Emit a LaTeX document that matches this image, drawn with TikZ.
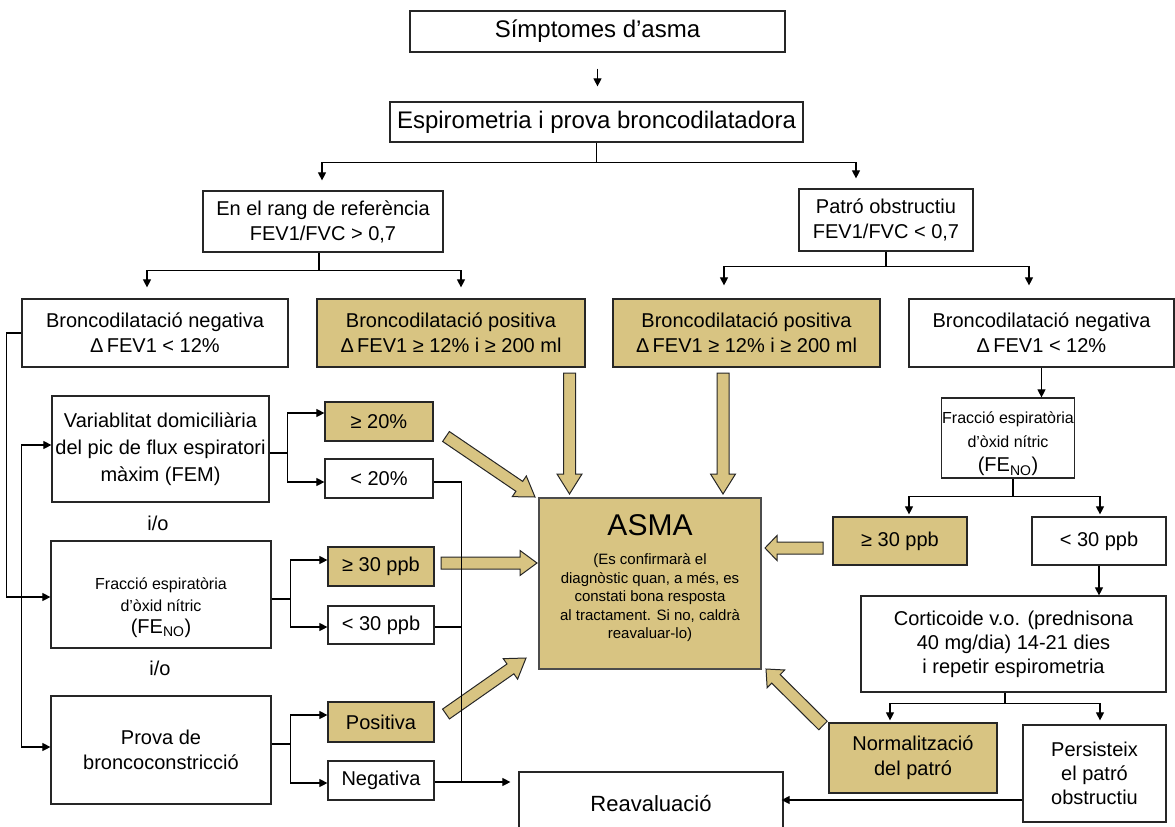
\documentclass[tikz,border=0pt]{standalone}
\usepackage{fontspec}
\setmainfont{Liberation Sans}
\usetikzlibrary{arrows.meta,calc}
\definecolor{gold}{RGB}{216,196,130}
% block arrow: #1 tail, #2 tip, #3 head length, #4 name
\newcommand\garrow[4]{%
  \coordinate (#4h) at ($(#2)!#3!(#1)$);
  \draw[goldarrow] ($(#1)!6pt!90:(#2)$) -- ($(#4h)!6pt!-90:(#1)$) -- ($(#4h)!12.5pt!-90:(#1)$) -- (#2) -- ($(#4h)!12.5pt!90:(#1)$) -- ($(#4h)!6pt!90:(#1)$) -- ($(#1)!6pt!-90:(#2)$) -- cycle;
}
\newcommand\smallline[1]{{\fontsize{16}{20}\selectfont #1}}
\begin{document}
\begin{tikzpicture}[x=1pt,y=-1pt,
  box/.style={draw=black!85, line width=1.2pt, fill=white, align=center, inner sep=0.5pt, font=\fontsize{20}{25}\selectfont},
  gbox/.style={box, fill=gold},
  conn/.style={line width=1.1pt, draw=black},
  arr/.style={conn, -{Triangle[length=8pt,width=8pt]}},
  goldarrow/.style={fill=gold, draw=black!85, line width=1pt, line join=miter},
  plain/.style={font=\fontsize{20}{24}\selectfont, inner sep=0pt},
]
\useasboundingbox (0,0) rectangle (1175,827);

% ---- nodes ----
\node[box, minimum width=375pt, minimum height=41pt, font=\fontsize{24}{28}\selectfont] (sym) at (597.5,31.5) {Símptomes d’asma};
\node[box, minimum width=413pt, minimum height=40pt, font=\fontsize{24}{28}\selectfont] (esp) at (596.5,122) {Espirometria i prova broncodilatadora};
\node[box, minimum width=240pt, minimum height=61pt] (rang) at (323,221.5) {En el rang de referència\\FEV1/FVC > 0,7};
\node[box, minimum width=174pt, minimum height=62pt] (obs) at (886,220) {Patró obstructiu\\FEV1/FVC < 0,7};

\node[box, minimum width=266pt, minimum height=68pt] (negL) at (155,333) {Broncodilatació negativa\\Δ\,FEV1 < 12\%};
\node[gbox, minimum width=268pt, minimum height=68pt] (posL) at (451,333) {Broncodilatació positiva\\Δ\,FEV1 ≥ 12\% i ≥ 200 ml};
\node[gbox, minimum width=267pt, minimum height=68pt] (posR) at (746.5,333) {Broncodilatació positiva\\Δ\,FEV1 ≥ 12\% i ≥ 200 ml};
\node[box, minimum width=265pt, minimum height=68pt] (negR) at (1041.5,333) {Broncodilatació negativa\\Δ\,FEV1 < 12\%};

\node[box, minimum width=217pt, minimum height=106pt, font=\fontsize{20}{27}\selectfont] (var) at (160.5,449) {Variablitat domiciliària\\del pic de flux espiratori\\màxim (FEM)};
\node[plain] (io1) at (158,523) {i/o};
\node[box, minimum width=220pt, minimum height=107pt, font=\fontsize{20}{22}\selectfont] (fenoL) at (161,594.5) {\smallline{\rule{0pt}{38pt}Fracció espiratòria}\\\smallline{d’òxid nítric}\\(FE\textsubscript{NO})};
\node[plain] (io2) at (160,668) {i/o};
\node[box, minimum width=220pt, minimum height=108pt] (prova) at (161,750) {Prova de\\broncoconstricció};

\node[gbox, minimum width=108pt, minimum height=39pt] (ge20) at (379,421.5) {≥ 20\%};
\node[box, minimum width=108pt, minimum height=39pt] (lt20) at (379,478.5) {< 20\%};
\node[gbox, minimum width=106pt, minimum height=39pt] (ge30L) at (381,566.5) {≥ 30 ppb};
\node[box, minimum width=106pt, minimum height=38pt] (lt30L) at (381,625) {< 30 ppb};
\node[gbox, minimum width=106pt, minimum height=40pt] (posit) at (381,722) {Positiva};
\node[box, minimum width=106pt, minimum height=39pt] (negat) at (381,780.5) {Negativa};

\node[gbox, draw=black!70, line width=2pt, minimum width=222pt, minimum height=171pt] (asma) at (650,583.5) {};
\node[inner sep=0pt, font=\fontsize{30}{32}\selectfont] (asmat) at (650,525) {ASMA};
\node[inner sep=0pt, align=center, font=\fontsize{15}{18.5}\selectfont] (asmab) at (650,598) {(Es confirmarà el\\diagnòstic quan, a més, es\\constati bona resposta\\al tractament. Si no, caldrà\\reavaluar-lo)};

\node[box, minimum width=118pt, minimum height=80pt, font=\fontsize{20}{24}\selectfont] (fenoR) at (1008,438) {\smallline{\rule{0pt}{24pt}Fracció espiratòria}\\\smallline{d’òxid nítric}\\(FE\textsubscript{NO})};
\node[gbox, minimum width=134pt, minimum height=48pt] (ge30R) at (900,541) {≥ 30 ppb};
\node[box, minimum width=134pt, minimum height=48pt] (lt30R) at (1099,541) {< 30 ppb};
\node[box, minimum width=305pt, minimum height=96pt, font=\fontsize{20}{24}\selectfont] (cort) at (1013.5,644) {Corticoide v.o. (prednisona\\40 mg/dia) 14-21 dies\\i repetir espirometria};
\node[gbox, minimum width=168pt, minimum height=70pt] (norm) at (913,758) {Normalització\\del patró};
\node[box, minimum width=143pt, minimum height=97pt, font=\fontsize{20}{24}\selectfont] (pers) at (1094.5,773.5) {Persisteix\\el patró\\obstructiu};
\node[box, minimum width=264pt, minimum height=63pt, font=\fontsize{22}{26}\selectfont] (reav) at (651,803.5) {Reavaluació};

% ---- gold block arrows ----
\coordinate (a1t) at (569.5,373); \coordinate (a1h) at (569.5,494);
\coordinate (a2t) at (723,373);   \coordinate (a2h) at (723,494);
\coordinate (a3t) at (446,436.5); \coordinate (a3h) at (535,497);
\coordinate (a4t) at (441,563);   \coordinate (a4h) at (537,563);
\coordinate (a5t) at (446,714);   \coordinate (a5h) at (526,658);
\coordinate (a6t) at (823,548);   \coordinate (a6h) at (765,548);
\coordinate (a7t) at (823,725.5); \coordinate (a7h) at (766,669);
\garrow{a1t}{a1h}{20pt}{ga1}
\garrow{a2t}{a2h}{20pt}{ga2}
\garrow{a3t}{a3h}{19pt}{ga3}
\garrow{a4t}{a4h}{17pt}{ga4}
\garrow{a5t}{a5h}{19pt}{ga5}
\garrow{a6t}{a6h}{12pt}{ga6}
\garrow{a7t}{a7h}{14pt}{ga7}

% ---- connectors ----
\draw[arr, shorten <=16pt, shorten >=15pt] (sym.south) -- (sym.south |- esp.north);

\draw[conn] (esp.south) -- ++(0,20) coordinate (e1);
\draw[arr, shorten >=10pt] (e1) -| ([xshift=-1pt]rang.north);
\draw[arr, shorten >=10pt] (e1) -| ([xshift=-30pt]obs.north);

\draw[conn] ([xshift=-4pt]rang.south) -- ++(0,18) coordinate (r1);
\draw[arr, shorten >=11pt] (r1) -| ([xshift=-8pt]negL.north);
\draw[arr, shorten >=11pt] (r1) -| ([xshift=10pt]posL.north);

\draw[conn] (obs.south) -- ++(0,15) coordinate (o1);
\draw[arr, shorten >=13pt] (o1) -| ([xshift=-22.5pt]posR.north);
\draw[arr, shorten >=13pt] (o1) -| ([xshift=-12.5pt]negR.north);

\draw[arr] (negR.south) -- (negR.south |- fenoR.north);
\draw[conn] ([xshift=5pt]fenoR.south) -- ++(0,18) coordinate (f1);
\draw[arr, shorten >=2pt] (f1) -| ([xshift=9pt]ge30R.north);
\draw[arr, shorten >=2pt] (f1) -| ([xshift=1pt]lt30R.north);
\draw[arr] (lt30R.south) -- (lt30R.south |- cort.north);
\draw[conn] ([xshift=-8.5pt]cort.south) -- ++(0,11) coordinate (c1);
\draw[arr, shorten >=2pt] (c1) -| ([xshift=-23pt]norm.north);
\draw[arr, shorten >=4pt] (c1) -| ([xshift=5.5pt]pers.north);
\coordinate (pw) at ([yshift=-26.5pt]pers.west);
\draw[arr, shorten >=-2pt] (pw) -- (pw -| reav.east);

\draw[arr] (negL.west) -- ++(-15,0) |- ([yshift=-2.5pt]fenoL.west);
\draw[conn, {Triangle[length=8pt,width=8pt]}-{Triangle[length=8pt,width=8pt]}] ([yshift=4pt]var.west) -- ++(-30,0) |- ([yshift=3pt]prova.west);

\draw[conn] ([yshift=-4pt]var.east) -- ++(18,0) coordinate (v1);
\draw[arr] (v1) |- ([yshift=8.5pt]ge20.west);
\draw[arr] (v1) |- ([yshift=-3.5pt]lt20.west);

\draw[conn] ([yshift=-4.5pt]fenoL.east) -- ++(19,0) coordinate (f2);
\draw[arr] (f2) |- ([yshift=6.5pt]ge30L.west);
\draw[arr] (f2) |- ([yshift=-2pt]lt30L.west);

\draw[conn] ([yshift=6pt]prova.east) -- ++(19,0) coordinate (p1);
\draw[arr] (p1) |- ([yshift=7pt]posit.west);
\draw[arr] (p1) |- ([yshift=-2.5pt]negat.west);

\coordinate (rv) at ([yshift=21.5pt]reav.west);
\draw[arr, shorten >=8pt] ([yshift=-3.5pt]lt20.east) -- ++(28,0) |- (rv);
\draw[conn] ([yshift=-2pt]lt30L.east) -- ++(27,0);
\draw[conn] ([yshift=-1.5pt]negat.east) -- ++(27,0);
\end{tikzpicture}
\end{document}
